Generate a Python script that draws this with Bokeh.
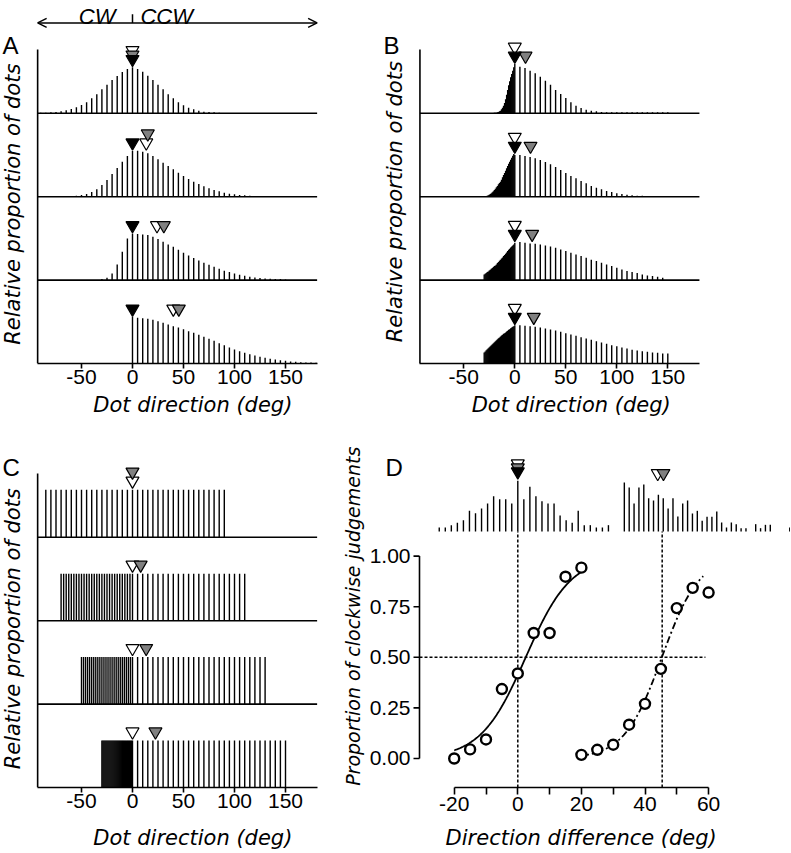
import math
import numpy as np
from bokeh.plotting import figure
from bokeh.layouts import row, column
from bokeh.models import (Label, Arrow, OpenHead, FixedTicker, Range1d)
from bokeh.core.properties import value
from bokeh.embed import file_html
from bokeh.resources import INLINE

# ============================ DATA ============================
# Panel A: relative proportion of dots per 5-deg direction bin (rows top -> bottom)
A1_dirs = list(range(-90, 90, 5))
A1_vals = [2, 2, 3, 4, 6, 9, 13, 18, 25, 33, 45, 57, 72, 86, 100, 112, 124, 133, 138,
           133, 125, 113, 100, 86, 72, 57, 45, 33, 24, 17, 12, 8, 5, 4, 3, 2]
A2_dirs = list(range(-60, 125, 5))
A2_vals = [2, 3, 5, 8, 14, 22, 35, 50, 68, 86, 105, 122, 137, 138, 135, 130, 122, 112,
           102, 92, 82, 72, 62, 53, 45, 38, 31, 25, 20, 16, 12, 9, 7, 5, 4, 3, 2]
A3_dirs = list(range(-30, 155, 5))
A3_vals = [3, 7, 20, 47, 85, 125, 140, 138, 137, 135, 130, 123, 115, 107, 100, 91, 82,
           74, 66, 59, 52, 46, 40, 34, 28, 24, 20, 16, 13, 10, 8, 6, 5, 4, 3, 3, 2]
A4_dirs = list(range(0, 185, 5))
A4_vals = [140, 137, 136, 134, 131, 127, 122, 117, 112, 108, 103, 97, 92, 86, 80, 74, 68,
           61, 55, 48, 42, 37, 32, 28, 24, 20, 17, 14, 12, 10, 8, 6, 5, 4, 3, 3, 2]
A_black = [0, 0, 0, 0]
A_white = [0, 13.5, 24, 40]
A_gray = [0, 15, 30.7, 45.4]

# Panel B: 1-deg bins on the CW side, 5-deg bins on the CCW side
B_neg_dirs = list(range(-30, 0))
B1_neg = [1, 1, 1, 1, 1, 1, 1, 1, 1, 1, 2, 2, 2, 3, 4, 6, 8, 12, 17, 23, 31, 42, 56, 70,
          84, 96, 108, 118, 128, 138]
B1_pos_dirs = list(range(0, 155, 5))
B1_pos = [148, 140, 136, 128, 120, 110, 98, 86, 70, 58, 46, 33, 23, 16, 11, 8, 6, 4, 3, 3,
          3, 3, 3, 3, 3, 3, 3, 3, 3, 3, 3]
B2_neg = [1, 2, 2, 3, 4, 6, 8, 10, 13, 16, 20, 24, 28, 32, 37, 41, 45, 51, 58, 65, 71, 78,
          85, 92, 99, 105, 111, 117, 123, 128]
B2_pos_dirs = list(range(0, 155, 5))
B2_pos = [125, 125, 122, 119, 115, 110, 104, 97, 89, 80, 71, 62, 55, 47, 40, 32, 27, 22,
          17, 14, 10, 8, 6, 4, 3, 3, 2, 2, 2, 2, 2]
B3_neg = [17, 19, 21, 24, 26, 29, 31, 34, 36, 39, 42, 44, 47, 51, 54, 58, 61, 65, 68, 72,
          75, 79, 83, 87, 91, 94, 98, 101, 104, 107]
B3_pos_dirs = list(range(0, 150, 5))
B3_pos = [112, 114, 112, 110, 109, 107, 104, 101, 97, 92, 87, 82, 77, 72, 67, 61, 57, 52,
          47, 42, 37, 32, 27, 24, 21, 17, 14, 12, 10, 7]
B4_neg = [33, 36, 40, 43, 46, 49, 52, 55, 58, 61, 64, 67, 70, 73, 76, 78, 81, 84, 86, 89,
          91, 93, 96, 98, 101, 103, 106, 108, 110, 112]
B4_pos_dirs = list(range(0, 155, 5))
B4_pos = [115, 115, 113, 112, 110, 108, 105, 102, 99, 95, 91, 87, 83, 79, 75, 71, 67, 63,
          59, 55, 52, 48, 45, 41, 39, 37, 35, 33, 32, 30, 30]
B_black = [0, 0, 0, 0]
B_white = [0, 0, 0, 0]
B_gray = [10.5, 15.4, 17, 18.6]

# Panel C: uniform distributions (equal bar heights), finer bins on the CW side
C1_dirs = list(range(-85, 95, 5))
C2_dirs = [-70 + 2.5 * i for i in range(28)] + list(range(0, 115, 5))
C3_dirs = [-50 + 2 * i for i in range(25)] + list(range(0, 135, 5))
C4_dirs = list(range(-30, 0)) + list(range(0, 155, 5))
C_level = [143, 141, 141, 141]
C_white = [0, 0, 0, 0]
C_gray = [0, 8, 13.4, 22.5]

# Panel D: example distributions (top) and psychometric data
D_hl_dirs = [1.9 * i for i in range(-13, 16)]
D_hl_vals = [12, 12, 19, 26, 34, 62, 55, 69, 84, 106, 97, 97, 84, 152, 97, 134, 106, 91,
             84, 84, 48, 34, 26, 62, 19, 19, 12, 12, 19]
D_hr_dirs = [33.5 + 1.53 * i for i in range(35)]
D_hr_vals = [147, 132, 84, 132, 141, 100, 93, 110, 100, 69, 100, 45, 84, 93, 54, 62, 32,
             44, 44, 60, 27, 12, 27, 22, 10, 10, 0, 22, 10, 20, 20, 0, 0, 0, 12]
D_black = [0]
D_white = [0, 44]
D_gray = [0, 45.8]
D_means = [0, 45.4]

D_left_x = [-20, -15, -10, -5, 0, 5, 10, 15, 20]
D_left_y = [0.00, 0.045, 0.094, 0.343, 0.42, 0.62, 0.62, 0.898, 0.943]
D_right_x = [20, 25, 30, 35, 40, 45, 50, 55, 60]
D_right_y = [0.018, 0.043, 0.068, 0.167, 0.27, 0.443, 0.743, 0.843, 0.82]
FIT_MU = [2.5, 45.3]
FIT_SCALE = [7.1, 5.9]
FIT_SPAN = [(-20, 20.5), (20.2, 58.3)]

X_TICKS_ABC = [-50, 0, 50, 100, 150]
D_X_TICKS = [-20, -10, 0, 10, 20, 30, 40, 50, 60]
D_Y_TICKS = [0, 0.25, 0.5, 0.75, 1.0]

# ============================ STYLE ============================
PXD = 1.02          # px per degree (A, B, C)
ROW_GAP = 83.4      # px between row baselines
HS = 1.0 / 3.0      # px per unit of relative proportion
MK = 13
MK_C = (MK / 2) * math.sqrt(3) * 2 / 3   # centre of inverted triangle above its tip
X_LO, X_HI = -93, 181
Y_AX_TOP = 314
TXT = "Liberation Sans"
LAB = "DejaVu Sans"
GRAY = "#808080"
NBSP = "\u00a0"
LEFT_W, RIGHT_W = 338, 452
TOP_H, BOT_H = 441, 411


def base_fig(width, height, xr, yr, bottom):
    p = figure(width=width, height=height, x_range=Range1d(*xr), y_range=Range1d(*yr),
               output_backend="svg", toolbar_location=None,
               min_border_left=0, min_border_right=0, min_border_top=0,
               min_border_bottom=bottom, y_axis_location=None)
    p.outline_line_color = None
    p.grid.visible = False
    p.background_fill_color = "white"
    p.border_fill_color = "white"
    return p


def style_axis(ax, ticks, bounds, tick_out, standoff):
    ax.ticker = FixedTicker(ticks=ticks)
    ax.bounds = bounds
    ax.axis_line_width = 1.6
    ax.axis_line_color = "black"
    ax.major_tick_line_width = 1.6
    ax.major_tick_line_color = "black"
    ax.major_tick_out = tick_out
    ax.major_tick_in = 0
    ax.minor_tick_line_color = None
    ax.major_label_text_font = TXT
    ax.major_label_text_font_size = "21px"
    ax.major_label_text_color = "black"
    ax.major_label_standoff = standoff


def set_xlabel(ax, text, pad, standoff):
    # leading no-break spaces shift the centred label to the right
    ax.axis_label = NBSP * pad + text
    ax.axis_label_standoff = standoff
    ax.axis_label_text_font = LAB
    ax.axis_label_text_font_style = "italic"
    ax.axis_label_text_font_size = "21px"
    ax.axis_label_text_color = "black"


def add_label(p, x, y, text, size, font=TXT, style="normal", align="left",
              baseline="alphabetic", angle=0.0):
    p.add_layout(Label(x=x, y=y, text=text, text_font=font, text_font_size=size,
                       text_font_style=style, text_align=align, text_baseline=baseline,
                       angle=angle, text_color="black"))


def draw_rows(p, rows):
    tips = []
    for k, (dirs, vals) in enumerate(rows):
        base = (3 - k) * ROW_GAP
        p.segment(x0=dirs, y0=[base] * len(dirs), x1=dirs,
                  y1=[base + v * HS for v in vals],
                  line_color="black", line_width=1.4)
        tips.append(base + max(vals) * HS + 0.5)
    return tips


def draw_markers(p, tips, xs, lifts, color):
    ys = [tips[k] + lifts[k] + MK_C for k in range(len(xs))]
    p.scatter(x=xs, y=ys, marker="inverted_triangle", size=MK, fill_color=color,
              line_color="black", line_width=1.2)


def frame_lines(p):
    ys = [ROW_GAP * k for k in (1, 2, 3)]
    p.segment(x0=[X_LO] * 3, y0=ys, x1=[X_HI] * 3, y1=ys, line_color="black",
              line_width=1.6)
    p.segment(x0=[X_LO], y0=[0], x1=[X_LO], y1=[Y_AX_TOP], line_color="black",
              line_width=1.6)


def hist_axes(p):
    style_axis(p.xaxis[0], X_TICKS_ABC, (X_LO, X_HI), 5, 1)
    p.xaxis[0].major_label_overrides = {-50: "-50"}


# ============================ PANEL A ============================
pA = base_fig(LEFT_W, TOP_H, (-132 / PXD, (LEFT_W - 132) / PXD), (0, 363), TOP_H - 363)
frame_lines(pA)
tA = draw_rows(pA, [(A1_dirs, A1_vals), (A2_dirs, A2_vals), (A3_dirs, A3_vals),
                    (A4_dirs, A4_vals)])
draw_markers(pA, tA, A_white, [9, 0, 0, 0], "white")
draw_markers(pA, tA, A_gray, [4.5, 9, 0, 0], GRAY)
draw_markers(pA, tA, A_black, [0, 0, 0, 0], "black")
hist_axes(pA)
pA.add_layout(Arrow(start=OpenHead(size=9, line_width=1.5, line_color="black"),
                    end=OpenHead(size=9, line_width=1.5, line_color="black"),
                    x_start=X_LO, y_start=340.6, x_end=X_HI, y_end=340.6,
                    line_width=1.5, line_color="black"))
pA.segment(x0=[0], y0=[340.6], x1=[0], y1=[349.3], line_color="black", line_width=1.5)
add_label(pA, -16.7, 346.6, "CW", "22px", style="italic", align="right")
add_label(pA, 7.8, 346.6, "CCW", "22px", style="italic", align="left")
add_label(pA, -127.5, 318, "A", "24px")
add_label(pA, -116.7, 159.3, "Relative proportion of dots", "21px", font=LAB,
          style="italic", align="center", baseline="middle", angle=math.pi / 2)
set_xlabel(pA.xaxis[0], "Dot direction (deg)", 7, 6)

# ============================ PANEL B ============================
B_ZERO = 514.3 - 338
pB = base_fig(RIGHT_W, TOP_H, (-B_ZERO / PXD, (RIGHT_W - B_ZERO) / PXD), (0, 363),
              TOP_H - 363)
frame_lines(pB)
tB = draw_rows(pB, [(B_neg_dirs + B1_pos_dirs, B1_neg + B1_pos),
                    (B_neg_dirs + B2_pos_dirs, B2_neg + B2_pos),
                    (B_neg_dirs + B3_pos_dirs, B3_neg + B3_pos),
                    (B_neg_dirs + B4_pos_dirs, B4_neg + B4_pos)])
draw_markers(pB, tB, B_white, [9, 9, 9, 9], "white")
draw_markers(pB, tB, B_gray, [0, 0, 0, 0], GRAY)
draw_markers(pB, tB, B_black, [0, 0, 0, 0], "black")
hist_axes(pB)
add_label(pB, -128.7, 318, "B", "24px")
add_label(pB, -117.9, 161.8, "Relative proportion of dots", "21px", font=LAB,
          style="italic", align="center", baseline="middle", angle=math.pi / 2)
set_xlabel(pB.xaxis[0], "Dot direction (deg)", 2, 6)

# ============================ PANEL C ============================
pC = base_fig(LEFT_W, BOT_H, (-132 / PXD, (LEFT_W - 132) / PXD), (0, 346), BOT_H - 346)
frame_lines(pC)
C_rows = [(d, [lvl] * len(d)) for d, lvl in zip([C1_dirs, C2_dirs, C3_dirs, C4_dirs],
                                                  C_level)]
tC = draw_rows(pC, C_rows)
tC = [t + 0.8 for t in tC]
draw_markers(pC, tC, C_white, [0, 0, 0, 0], "white")
draw_markers(pC, tC, C_gray, [9, 0, 0, 0], GRAY)
hist_axes(pC)
add_label(pC, -127.5, 319.7, "C", "24px")
add_label(pC, -116.7, 158.7, "Relative proportion of dots", "21px", font=LAB,
          style="italic", align="center", baseline="middle", angle=math.pi / 2)
set_xlabel(pC.xaxis[0], "Dot direction (deg)", 7, 15)

# ============================ PANEL D ============================
DPX = 202.4          # px per unit of proportion
DPXX = 3.18          # px per degree
D_Y0, D_Y1 = -0.1433, -0.1433 + 346 / DPX
D_X0 = (338 - 517.3) / DPXX
D_X1 = D_X0 + RIGHT_W / DPXX
X_YAX = (419 - 517.3) / DPXX      # detached y axis position
HB_D = 227 / DPX     # baseline of the example distributions
pD = base_fig(RIGHT_W, BOT_H, (D_X0, D_X1), (D_Y0, D_Y1), BOT_H - 346)

# example distributions
for dirs, vals in ((D_hl_dirs, D_hl_vals), (D_hr_dirs, D_hr_vals)):
    dd = [d for d, v in zip(dirs, vals) if v > 0]
    vv = [v for v in vals if v > 0]
    pD.segment(x0=dd, y0=[HB_D] * len(dd), x1=dd, y1=[HB_D + v * HS / DPX for v in vv],
               line_color="black", line_width=1.4)
tipL = HB_D + (max(D_hl_vals) * HS + 1.7) / DPX
tipR = HB_D + (max(D_hr_vals) * HS + 1.7) / DPX
cD = MK_C / DPX
pD.scatter(x=D_white, y=[tipL + 8 / DPX + cD, tipR + cD], marker="inverted_triangle",
           size=MK, fill_color="white", line_color="black", line_width=1.2)
pD.scatter(x=D_gray, y=[tipL + 4 / DPX + cD, tipR + cD], marker="inverted_triangle",
           size=MK, fill_color=GRAY, line_color="black", line_width=1.2)
pD.scatter(x=D_black, y=[tipL + cD], marker="inverted_triangle",
           size=MK, fill_color="black", line_color="black", line_width=1.2)

# detached y axis (line, ticks, labels) drawn on the data scale
pD.segment(x0=[X_YAX], y0=[0], x1=[X_YAX], y1=[1], line_color="black", line_width=1.6)
pD.segment(x0=[X_YAX] * len(D_Y_TICKS), y0=D_Y_TICKS,
           x1=[X_YAX - 6 / DPXX] * len(D_Y_TICKS), y1=D_Y_TICKS,
           line_color="black", line_width=1.6)
pD.text(x=[X_YAX] * len(D_Y_TICKS), y=D_Y_TICKS,
        text=["%.2f" % t for t in D_Y_TICKS], x_offset=-9,
        text_align="right", text_baseline="middle", text_font=value(TXT),
        text_font_size=value("21px"), text_color="black")

# dotted guide lines
pD.segment(x0=D_means, y0=[D_Y0] * 2, x1=D_means, y1=[HB_D] * 2, line_color="black",
           line_width=1.5, line_dash="3 2")
pD.segment(x0=[X_YAX], y0=[0.5], x1=[59], y1=[0.5], line_color="black",
           line_width=1.5, line_dash="3 2")

# psychometric fits
for mu, s, (a, b), dash in zip(FIT_MU, FIT_SCALE, FIT_SPAN, ["solid", "7 3 2 3"]):
    xs = np.linspace(a, b, 150)
    ys = 1.0 / (1.0 + np.exp(-(xs - mu) / s))
    pD.line(xs, ys, line_color="black", line_width=1.8, line_dash=dash)

pD.scatter(x=D_left_x + D_right_x, y=D_left_y + D_right_y, marker="circle", size=10,
           fill_color="white", line_color="black", line_width=2.4)

style_axis(pD.xaxis[0], D_X_TICKS, (-20, 60), 7, 2)
pD.xaxis[0].major_label_overrides = {-20: "-20", -10: "", 10: "", 30: "", 50: ""}
set_xlabel(pD.xaxis[0], "Direction difference (deg)", 5, 12)

add_label(pD, -41.6, 1.436, "D", "24px")
add_label(pD, -51.7, 0.7026, "Proportion of clockwise judgements", "19px", font=LAB,
          style="italic", align="center", baseline="middle", angle=math.pi / 2)

layout = column(row(pA, pB), row(pC, pD))
open("out.html", "w").write(file_html(layout, INLINE, title="Dot direction figure"))
